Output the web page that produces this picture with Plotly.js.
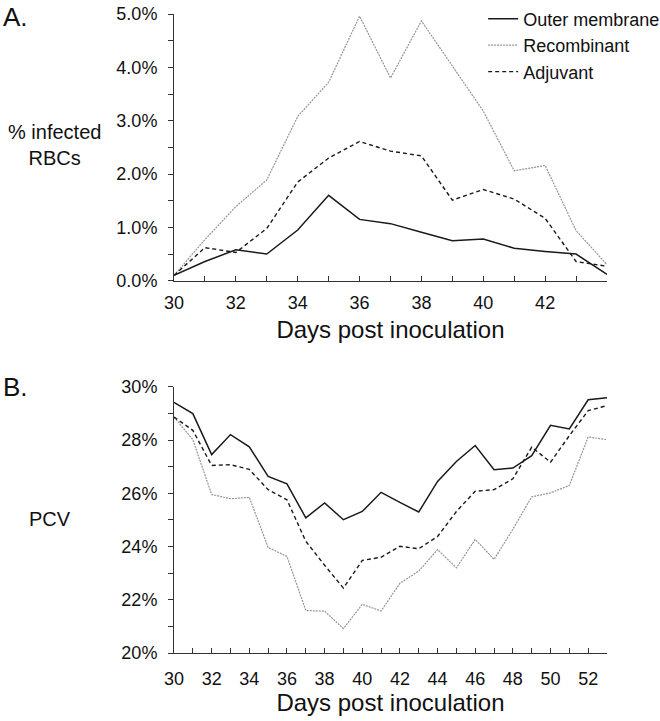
<!DOCTYPE html>
<html>
<head>
<meta charset="utf-8">
<script src="https://cdn.plot.ly/plotly-3.0.1.min.js"></script>
<style>
  html, body { margin: 0; padding: 0; background: #fff; }
  #grafico { width: 660px; height: 721px; }
</style>
</head>
<body>
<div id="grafico"></div>
<script>
// Panel A: % infected RBCs
const diasA = [30, 31, 32, 33, 34, 35, 36, 37, 38, 39, 40, 41, 42, 43, 44];
const outerA = [0.1, 0.36, 0.58, 0.5, 0.95, 1.6, 1.15, 1.07, 0.91, 0.75, 0.78, 0.61, 0.55, 0.5, 0.12];
const recombA = [0.1, 0.77, 1.39, 1.89, 3.08, 3.72, 4.96, 3.8, 4.87, 4.02, 3.18, 2.06, 2.16, 0.94, 0.3];
const adjuvA = [0.1, 0.62, 0.53, 0.98, 1.85, 2.3, 2.61, 2.43, 2.34, 1.51, 1.71, 1.53, 1.17, 0.36, 0.27];

// Panel B: PCV
const diasB = [30, 31, 32, 33, 34, 35, 36, 37, 38, 39, 40, 41, 42, 43, 44, 45, 46, 47, 48, 49, 50, 51, 52, 53];
const outerB = [29.42, 29.0, 27.46, 28.21, 27.75, 26.64, 26.36, 25.08, 25.64, 25.01, 25.32, 26.04, 25.66, 25.3, 26.45, 27.2, 27.8, 26.89, 26.95, 27.42, 28.56, 28.42, 29.52, 29.6];
const recombB = [28.87, 28.02, 25.96, 25.8, 25.85, 23.97, 23.63, 21.6, 21.57, 20.92, 21.83, 21.58, 22.62, 23.08, 23.89, 23.2, 24.27, 23.52, 24.65, 25.87, 26.02, 26.3, 28.12, 28.02];
const adjuvB = [28.87, 28.37, 27.05, 27.08, 26.9, 26.14, 25.76, 24.2, 23.3, 22.44, 23.48, 23.6, 24.01, 23.92, 24.38, 25.32, 26.08, 26.14, 26.55, 27.74, 27.17, 28.17, 29.11, 29.3];

const etiquetasXA = [30, 32, 34, 36, 38, 40, 42];

const fuente = 'Liberation Sans, Arial, sans-serif';
const estilos = {
    outer: {color: '#1a1a1a', width: 1.5, dash: 'solid'},
    recomb: {color: '#959595', width: 1.2, dash: '2px,1px'},
    adjuv: {color: '#1a1a1a', width: 1.4, dash: '4px,3px'}
};

function serie(x, y, nombre, estilo, ejes, leyenda) {
    return {
        x: x, y: y, name: nombre, type: 'scatter', mode: 'lines',
        line: estilo, xaxis: ejes[0], yaxis: ejes[1], showlegend: leyenda
    };
}

const trazas = [
    serie(diasA, outerA, 'Outer membrane', estilos.outer, ['x', 'y'], true),
    serie(diasA, recombA, 'Recombinant', estilos.recomb, ['x', 'y'], true),
    serie(diasA, adjuvA, 'Adjuvant', estilos.adjuv, ['x', 'y'], true),
    serie(diasB, outerB, 'Outer membrane', estilos.outer, ['x2', 'y2'], false),
    serie(diasB, recombB, 'Recombinant', estilos.recomb, ['x2', 'y2'], false),
    serie(diasB, adjuvB, 'Adjuvant', estilos.adjuv, ['x2', 'y2'], false)
];

const ejeBase = {
    showgrid: false, zeroline: false, showline: true,
    linecolor: '#333', linewidth: 1, tickcolor: '#333', ticklen: 5,
    tickfont: {family: fuente, size: 18, color: '#111'}
};

const layout = {
    width: 660, height: 721,
    margin: {l: 174, r: 53, t: 14, b: 68, autoexpand: false},
    paper_bgcolor: '#fff', plot_bgcolor: '#fff',
    font: {family: fuente, color: '#111'},
    xaxis: Object.assign({}, ejeBase, {
        domain: [0, 1], anchor: 'y', range: [30, 44],
        tickmode: 'array', tickvals: etiquetasXA, ticks: 'inside', ticklabelstandoff: 6,
        minor: {dtick: 1, ticks: 'inside', ticklen: 5, tickcolor: '#333'},
        title: {text: 'Days post inoculation', font: {family: fuente, size: 24, color: '#111'}, standoff: 8}
    }),
    yaxis: Object.assign({}, ejeBase, {
        domain: [0.5826, 1], anchor: 'x', range: [0, 5],
        dtick: 1, tickformat: '.1f', ticksuffix: '%', ticks: 'outside', ticklabelstandoff: 7,
        minor: {dtick: 0.5, ticks: 'outside', ticklen: 5, tickcolor: '#333'}
    }),
    xaxis2: Object.assign({}, ejeBase, {
        domain: [0, 1], anchor: 'y2', range: [30, 53],
        dtick: 2, ticks: 'inside', ticklabelstandoff: 9,
        minor: {dtick: 1, ticks: 'inside', ticklen: 5, tickcolor: '#333'},
        title: {text: 'Days post inoculation', font: {family: fuente, size: 24, color: '#111'}, standoff: 5}
    }),
    yaxis2: Object.assign({}, ejeBase, {
        domain: [0, 0.4163], anchor: 'x2', range: [20, 30],
        dtick: 2, tickformat: 'd', ticksuffix: '%', ticks: 'outside', ticklabelstandoff: 7,
        minor: {dtick: 1, ticks: 'outside', ticklen: 5, tickcolor: '#333'}
    }),
    legend: {
        x: 0.714, y: 1.021, xanchor: 'left', yanchor: 'top',
        bgcolor: 'rgba(0,0,0,0)', font: {family: fuente, size: 18, color: '#111'},
        tracegroupgap: 0
    },
    annotations: [
        {text: 'A.', xref: 'paper', yref: 'paper', x: -0.4, y: 0.995, xanchor: 'left', yanchor: 'middle',
         showarrow: false, font: {family: fuente, size: 26, color: '#111'}},
        {text: 'B.', xref: 'paper', yref: 'paper', x: -0.4, y: 0.416, xanchor: 'left', yanchor: 'middle',
         showarrow: false, font: {family: fuente, size: 26, color: '#111'}},
        {text: '% infected<br>RBCs', xref: 'paper', yref: 'paper', x: -0.275, y: 0.795, xanchor: 'center', yanchor: 'middle',
         showarrow: false, align: 'center', font: {family: fuente, size: 20, color: '#111'}},
        {text: 'PCV', xref: 'paper', yref: 'paper', x: -0.2854, y: 0.21, xanchor: 'center', yanchor: 'middle',
         showarrow: false, font: {family: fuente, size: 20, color: '#111'}}
    ]
};

Plotly.newPlot('grafico', trazas, layout, {displayModeBar: false, staticPlot: true});
</script>
</body>
</html>
